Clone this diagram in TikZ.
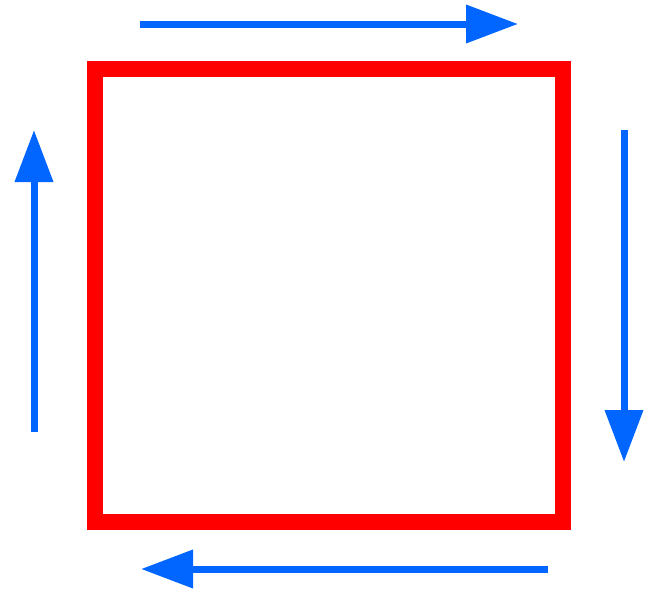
\documentclass[tikz,border=0pt]{standalone}
\usepackage{tikz}
\usetikzlibrary{arrows.meta}

\definecolor{loopred}{HTML}{FF0000}
\definecolor{flowblue}{HTML}{0066FF}

\begin{document}
\begin{tikzpicture}[x=1pt, y=-1pt,
    flow/.style={flowblue, line width=7pt, -{Triangle[length=52pt, width=37pt]}}]
    \useasboundingbox (0,0) rectangle (650,589);

    % The square loop
    \draw[loopred, line width=16pt] (95,69) rectangle (563,522);

    % Arrow end points round the loop
    \coordinate (top0) at (140,24);
    \coordinate (top1) at (518,24);
    \coordinate (right0) at (624,130);
    \coordinate (right1) at (624,462);
    \coordinate (bot0) at (548,569);
    \coordinate (bot1) at (141,569);
    \coordinate (left0) at (34,432);
    \coordinate (left1) at (34,130);

    % Clockwise flow
    \draw[flow] (top0) -- (top1);
    \draw[flow] (right0) -- (right1);
    \draw[flow] (bot0) -- (bot1);
    \draw[flow] (left0) -- (left1);
\end{tikzpicture}
\end{document}
